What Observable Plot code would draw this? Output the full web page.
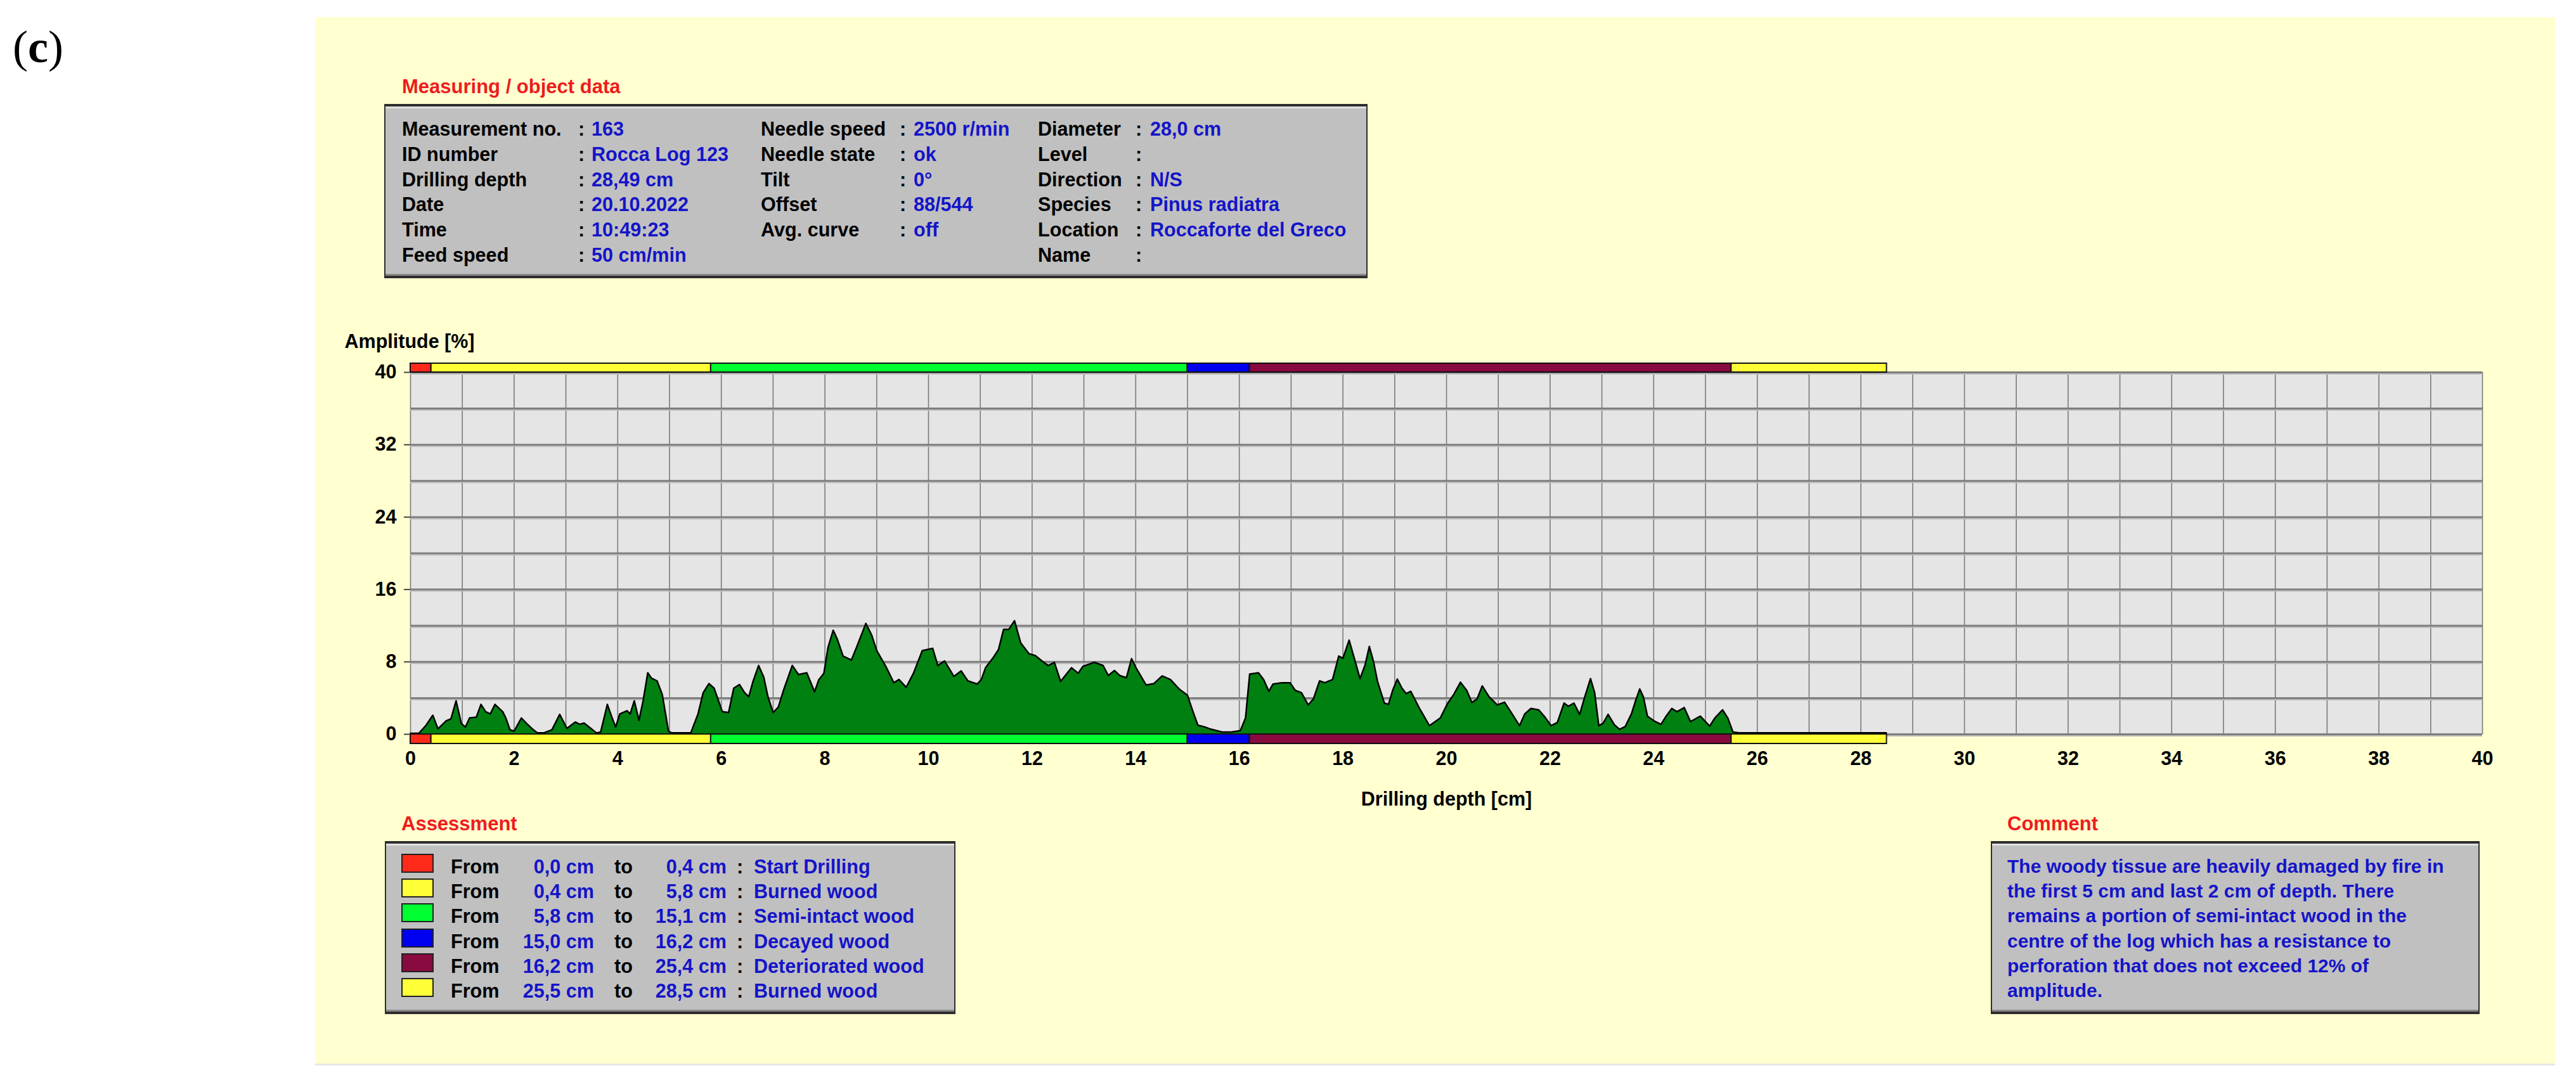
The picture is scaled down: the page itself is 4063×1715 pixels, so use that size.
<!DOCTYPE html>
<html>
<head>
<meta charset="utf-8">
<script src="https://cdn.jsdelivr.net/npm/d3@7"></script>
<script src="https://cdn.jsdelivr.net/npm/@observablehq/plot@0.6"></script>
<style>
html,body{margin:0;padding:0;background:#fff;width:4063px;height:1715px;overflow:hidden;font-family:"Liberation Sans",Arial,sans-serif;}
#page{position:relative;width:4063px;height:1715px;}
#panel{position:absolute;left:497px;top:27px;width:3533px;height:1651px;background:#ffffd0;border-bottom:3px solid #e6e6e2;}
.t{position:absolute;font-weight:bold;font-size:30.6px;line-height:30px;white-space:nowrap;}
.c{font-size:30px;}
.title{color:#ee1c1c;font-size:31px;line-height:31px;}
.k{color:#000;}
.v{color:#1414c8;}
.box{position:absolute;background:#c0c0c0;box-sizing:border-box;border-top:4px solid #2e2e2e;border-bottom:4px solid #2e2e2e;border-left:2px solid #2e2e2e;border-right:2px solid #2e2e2e;box-shadow:inset 0 3px 0 #e2e2e2, inset 0 -3px 0 #8a8a8a;}
.sw{position:absolute;box-sizing:border-box;width:51px;height:30px;border:2px solid #222;}
#chart{position:absolute;left:500px;top:500px;}
#cap{position:absolute;left:20px;top:38px;font-family:"Liberation Serif","Times New Roman",serif;font-size:72px;line-height:72px;color:#000;}
</style>
</head>
<body>
<div id="page">
  <div id="cap">(<b>c</b>)</div>
  <div id="panel"></div>
  <div id="chart"></div>
</div>
<script>
// ---------- data ----------
const depth = [
  0, 0.16, 0.3, 0.43, 0.53, 0.69, 0.78, 0.88, 0.98, 1.06,
  1.14, 1.27, 1.36, 1.45, 1.54, 1.63, 1.78, 1.84, 1.92, 2.0,
  2.14, 2.24, 2.35, 2.45, 2.57, 2.73, 2.88, 3.02, 3.18, 3.27,
  3.35, 3.47, 3.59, 3.67, 3.8, 3.88, 3.96, 4.04, 4.18, 4.24,
  4.32, 4.41, 4.49, 4.58, 4.65, 4.76, 4.86, 4.98, 5.04, 5.41,
  5.55, 5.65, 5.76, 5.86, 6.02, 6.14, 6.24, 6.35, 6.45, 6.53,
  6.61, 6.72, 6.82, 6.9, 7.0, 7.1, 7.2, 7.37, 7.49, 7.65,
  7.8, 7.88, 7.98, 8.06, 8.16, 8.24, 8.35, 8.51, 8.61, 8.79,
  8.9, 9.0, 9.18, 9.33, 9.43, 9.57, 9.71, 9.88, 10.08, 10.18,
  10.31, 10.49, 10.63, 10.76, 10.94, 11.02, 11.1, 11.24, 11.35, 11.45,
  11.55, 11.66, 11.78, 11.94, 12.06, 12.2, 12.31, 12.43, 12.55, 12.76,
  12.89, 12.98, 13.2, 13.37, 13.47, 13.59, 13.69, 13.82, 13.92, 14.02,
  14.2, 14.35, 14.51, 14.67, 14.84, 15.0, 15.1, 15.2, 15.31, 15.43,
  15.67, 15.84, 16.02, 16.12, 16.2, 16.37, 16.47, 16.57, 16.65, 16.82,
  16.98, 17.08, 17.2, 17.33, 17.43, 17.55, 17.65, 17.8, 17.92, 18.0,
  18.12, 18.22, 18.33, 18.43, 18.51, 18.59, 18.67, 18.8, 18.88, 18.96,
  19.05, 19.14, 19.22, 19.31, 19.47, 19.67, 19.88, 20.02, 20.14, 20.27,
  20.39, 20.49, 20.59, 20.69, 20.82, 20.98, 21.12, 21.24, 21.41, 21.51,
  21.63, 21.78, 21.9, 22.02, 22.14, 22.27, 22.35, 22.46, 22.57, 22.67,
  22.78, 22.86, 22.94, 23.02, 23.12, 23.24, 23.34, 23.45, 23.57, 23.65,
  23.73, 23.8, 23.88, 24.0, 24.14, 24.24, 24.35, 24.45, 24.59, 24.71,
  24.9, 25.08, 25.18, 25.33, 25.43, 25.53, 25.65, 28.49
];
const amplitude = [
  0.1, 0.1, 1.0, 2.1, 0.6, 1.5, 1.7, 3.7, 1.2, 0.8,
  1.8, 1.9, 3.3, 2.5, 2.25, 3.3, 2.5, 1.8, 0.5, 0.35,
  1.8, 1.2, 0.6, 0.15, 0.15, 0.5, 2.2, 0.65, 1.35, 1.1,
  1.25, 0.7, 0.15, 0.25, 3.3, 2.0, 0.8, 2.25, 2.6, 2.25,
  3.7, 1.55, 3.7, 6.8, 6.2, 5.9, 4.4, 0.35, 0.15, 0.15,
  2.25, 4.6, 5.6, 5.1, 2.5, 2.4, 5.1, 5.5, 4.6, 4.15,
  5.8, 7.6, 6.3, 4.15, 2.4, 3.0, 4.85, 7.6, 6.6, 6.8,
  4.7, 6.0, 6.75, 9.6, 11.5, 10.5, 8.65, 8.2, 9.6, 12.25,
  11.0, 9.25, 7.45, 5.7, 6.05, 5.2, 6.75, 9.25, 9.5, 7.6,
  8.1, 6.4, 7.0, 5.9, 5.55, 6.05, 7.35, 8.4, 9.35, 11.6,
  11.6, 12.55, 10.1, 8.9, 8.7, 8.05, 7.6, 7.95, 5.85, 7.35,
  6.75, 7.5, 7.95, 7.6, 6.5, 7.05, 6.5, 6.25, 8.35, 7.2,
  5.45, 5.6, 6.45, 6.05, 5.0, 4.3, 2.6, 1.0, 0.85, 0.6,
  0.25, 0.25, 0.4, 1.8, 6.65, 6.8, 6.05, 4.75, 5.55, 5.7,
  5.7, 4.85, 4.6, 3.25, 3.9, 5.9, 5.7, 6.05, 8.65, 8.4,
  10.4, 8.4, 6.15, 7.7, 9.7, 8.05, 5.8, 3.45, 3.3, 4.85,
  6.1, 5.1, 4.5, 4.75, 2.95, 0.95, 1.8, 3.4, 4.4, 5.75,
  4.85, 3.5, 3.9, 5.35, 4.15, 3.25, 3.55, 2.5, 0.95, 2.25,
  2.85, 2.7, 1.9, 0.95, 1.3, 3.45, 3.1, 3.45, 2.2, 4.15,
  6.15, 4.6, 0.95, 1.2, 2.2, 1.05, 0.55, 0.85, 2.25, 3.7,
  5.0, 4.15, 2.0, 1.5, 1.1, 2.0, 2.85, 2.5, 2.95, 1.4,
  2.0, 0.9, 1.8, 2.7, 1.8, 0.25, 0.15, 0.15
];

const segFrom  = [0.0, 0.4, 5.8, 15.0, 16.2, 25.5];
const segTo    = [0.4, 5.8, 15.1, 16.2, 25.4, 28.5];
const segLabel = ["Start Drilling", "Burned wood", "Semi-intact wood", "Decayed wood", "Deteriorated wood", "Burned wood"];
const segColor = ["#ff2a1a", "#ffff38", "#00ff30", "#0000f0", "#880a3e", "#ffff38"];

const xLabelTicks = [0, 2, 4, 6, 8, 10, 12, 14, 16, 18, 20, 22, 24, 26, 28, 30, 32, 34, 36, 38, 40];
const xGridTicks = d3.range(0, 41, 1);
const yLabelTicks = [0, 8, 16, 24, 32, 40];
const yGridTicks = [0, 4, 8, 12, 16, 20, 24, 28, 32, 36, 40];

const col1Labels = ["Measurement no.", "ID number", "Drilling depth", "Date", "Time", "Feed speed"];
const col1Values = ["163", "Rocca Log 123", "28,49 cm", "20.10.2022", "10:49:23", "50 cm/min"];
const col2Labels = ["Needle speed", "Needle state", "Tilt", "Offset", "Avg. curve"];
const col2Values = ["2500 r/min", "ok", "0°", "88/544", "off"];
const col3Labels = ["Diameter", "Level", "Direction", "Species", "Location", "Name"];
const col3Values = ["28,0 cm", "", "N/S", "Pinus radiatra", "Roccaforte del Greco", ""];

const commentLines = [
  "The woody tissue are heavily damaged by fire in",
  "the first 5 cm and last 2 cm of depth. There",
  "remains a portion of semi-intact wood in the",
  "centre of the log which has a resistance to",
  "perforation that does not exceed 12% of",
  "amplitude."
];

// ---------- html helpers ----------
const page = document.getElementById("page");
function txt(s, left, baseline, cls, align) {
  const d = document.createElement("div");
  d.className = "t " + cls;
  d.textContent = s;
  const off = cls.includes("title") ? 26 : 25;
  d.style.top = (baseline - off) + "px";
  if (align === "right") { d.style.right = (4063 - left) + "px"; }
  else d.style.left = left + "px";
  page.appendChild(d);
  return d;
}
function box(l, t, r, b) {
  const d = document.createElement("div");
  d.className = "box";
  Object.assign(d.style, {left: l + "px", top: t + "px", width: (r - l) + "px", height: (b - t) + "px"});
  page.appendChild(d);
}
const fmt = v => v.toFixed(1).replace(".", ",") + " cm";

// Measuring / object data
txt("Measuring / object data", 634, 147, "title");
box(606, 164, 2157, 439);
const rowBase = i => 213 + 39.8 * i;
col1Labels.forEach((s, i) => { txt(s, 634, rowBase(i), "k"); txt(":", 912, rowBase(i), "k"); txt(col1Values[i], 933, rowBase(i), "v"); });
col2Labels.forEach((s, i) => { txt(s, 1200, rowBase(i), "k"); txt(":", 1419, rowBase(i), "k"); txt(col2Values[i], 1441, rowBase(i), "v"); });
col3Labels.forEach((s, i) => { txt(s, 1637, rowBase(i), "k"); txt(":", 1791, rowBase(i), "k"); txt(col3Values[i], 1814, rowBase(i), "v"); });

// Assessment
txt("Assessment", 633, 1310, "title");
box(607, 1327, 1507, 1600);
const aBase = i => 1377 + 39.2 * i;
segFrom.forEach((f, i) => {
  const sw = document.createElement("div");
  sw.className = "sw";
  sw.style.left = "633px"; sw.style.top = (aBase(i) - 30) + "px"; sw.style.background = segColor[i];
  page.appendChild(sw);
  txt("From", 711, aBase(i), "k");
  txt(fmt(f), 937, aBase(i), "v", "right");
  txt("to", 969, aBase(i), "k");
  txt(fmt(segTo[i]), 1146, aBase(i), "v", "right");
  txt(":", 1162, aBase(i), "k");
  txt(segLabel[i], 1189, aBase(i), "v");
});

// Comment
txt("Comment", 3166, 1310, "title");
box(3140, 1327, 3911, 1600);
commentLines.forEach((s, i) => txt(s, 3166, aBase(i), "v c"));

// ---------- chart ----------
const profile = depth.map((d, i) => ({depth: d, amp: amplitude[i]}));
const bars = segFrom.map((f, i) => ({
  from: f,
  end: i < segFrom.length - 1 ? segFrom[i + 1] : segTo[i],
  color: segColor[i]
}));
const yTop = 40;

const chart = Plot.plot({
  width: 3480,
  height: 790,
  marginLeft: 147,
  marginRight: 65,
  marginTop: 87,
  marginBottom: 132,
  x: {domain: [0, 40], label: "Drilling depth [cm]"},
  y: {domain: [0, 40], label: null},
  color: {type: "identity"},
  style: {background: "transparent", fontFamily: "'Liberation Sans', Arial, sans-serif", fontSize: "30.5px", fontWeight: "bold", color: "#000", overflow: "visible"},
  marks: [
    Plot.frame({fill: "#e5e5e5", stroke: null}),
    Plot.ruleX(xGridTicks, {stroke: "#7a7a7a", strokeWidth: 1.6}),
    Plot.ruleY(yGridTicks, {stroke: "#bdbdbd", strokeWidth: 2, dy: 2.5}),
    Plot.ruleY(yGridTicks, {stroke: "#7e7e7e", strokeWidth: 3}),
    Plot.areaY(profile, {x: "depth", y: "amp", fill: "#008010"}),
    Plot.lineY(profile, {x: "depth", y: "amp", stroke: "#000", strokeWidth: 2.5}),
    Plot.rect(bars, {x1: "from", x2: "end", y1: () => yTop, y2: () => yTop, insetTop: -14, fill: "color", stroke: "#111", strokeWidth: 2}),
    Plot.rect(bars, {x1: "from", x2: "end", y1: () => 0, y2: () => 0, insetBottom: -15, fill: "color", stroke: "#111", strokeWidth: 2}),
    Plot.axisY({ticks: yLabelTicks, tickSize: 10, tickPadding: 12, label: null, stroke: "#444", strokeWidth: 2}),
    Plot.axisX({ticks: xLabelTicks, tickSize: 0, tickPadding: 27, label: "Drilling depth [cm]", labelAnchor: "center", labelArrow: "none", labelOffset: 112}),
    Plot.text(["Amplitude [%]"], {text: d => d, frameAnchor: "top-left", dx: -104, dy: -39, textAnchor: "start", lineAnchor: "bottom"})
  ]
});
document.getElementById("chart").appendChild(chart);
</script>
</body>
</html>
